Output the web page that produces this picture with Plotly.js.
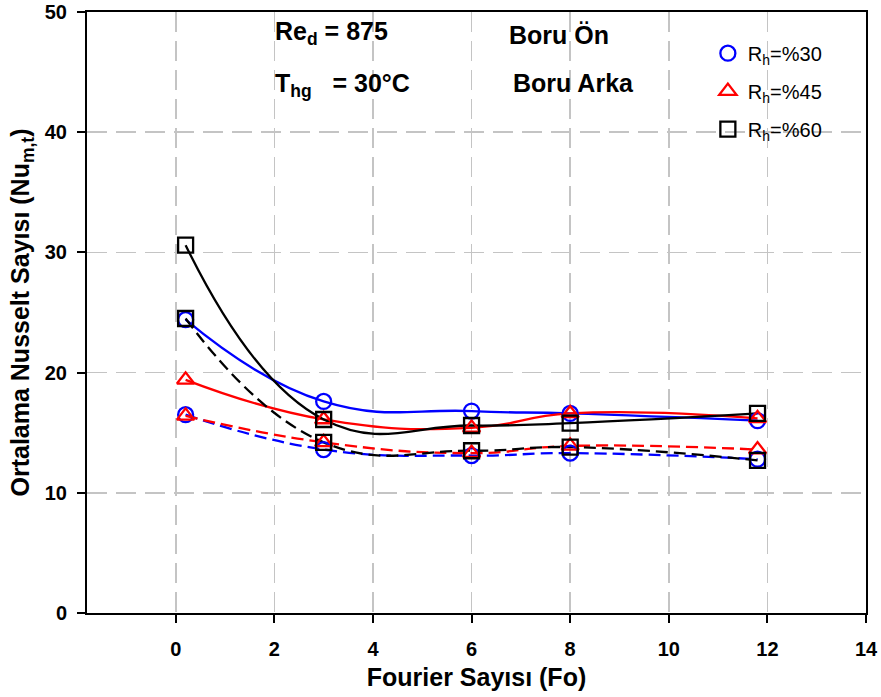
<!DOCTYPE html>
<html>
<head>
<meta charset="utf-8">
<script src="https://cdn.plot.ly/plotly-3.0.1.min.js"></script>
<style>html,body{margin:0;padding:0;background:#fff;}#chart{width:881px;height:697px;}</style>
</head>
<body>
<div id="chart"></div>
<script>
// Fourier number (x) values
const fo = [0.2, 3, 6, 8, 11.8];
// Boru Ön (front, solid lines)
const on30 = [24.4, 17.6, 16.8, 16.6, 16.0];
const on45 = [19.4, 16.1, 15.4, 16.6, 16.2];
const on60 = [30.6, 16.1, 15.6, 15.8, 16.6];
// Boru Arka (back, dashed lines)
const arka30 = [16.5, 13.6, 13.1, 13.3, 12.8];
const arka45 = [16.4, 14.2, 13.3, 13.9, 13.6];
const arka60 = [24.5, 14.2, 13.5, 13.8, 12.7];
const seriesNames = ['R<sub>h</sub>=%30', 'R<sub>h</sub>=%45', 'R<sub>h</sub>=%60'];
// axis ticks
const xTickVals = [0, 2, 4, 6, 8, 10, 12, 14];
const xTickText = ['0', '2', '4', '6', '8', '10', '12', '14'];
const yTickVals = [0, 10, 20, 30, 40, 50];
const yTickText = ['0', '10', '20', '30', '40', '50'];

const colors = ['#0000ff', '#ff0000', '#000000'];
const symbols = ['circle-open', 'triangle-up-open', 'square-open'];

const FONT = 'Liberation Sans, Arial, sans-serif';
const onSets = [on30, on45, on60];
const arkaSets = [arka30, arka45, arka60];
const traces = [];
for (let i = 0; i < 3; i++) {
  traces.push({x: fo, y: onSets[i], mode: 'lines', line: {color: colors[i], width: 2.3, shape: 'spline', smoothing: 1.3}, showlegend: false, hoverinfo: 'skip'});
  traces.push({x: fo, y: arkaSets[i], mode: 'lines', line: {color: colors[i], width: 2.3, shape: 'spline', smoothing: 1.3, dash: '12px,6px'}, showlegend: false, hoverinfo: 'skip'});
}
for (let i = 0; i < 3; i++) {
  traces.push({x: fo, y: onSets[i], mode: 'markers', name: seriesNames[i], legendgroup: 'g' + i,
    marker: {symbol: symbols[i], size: 15, color: colors[i], line: {color: colors[i], width: 2.3}}});
  traces.push({x: fo, y: arkaSets[i], mode: 'markers', name: seriesNames[i], legendgroup: 'g' + i, showlegend: false,
    marker: {symbol: symbols[i], size: 15, color: colors[i], line: {color: colors[i], width: 2.3}}});
}

const bold = s => '<b>' + s + '</b>';

const layout = {
  width: 881, height: 697,
  margin: {l: 87, r: 15, t: 12, b: 84},
  paper_bgcolor: '#fff', plot_bgcolor: '#fff',
  font: {family: FONT, color: '#000'},
  showlegend: true,
  legend: {x: 0.797, y: 0.964, xanchor: 'left', yanchor: 'top', bgcolor: 'rgba(0,0,0,0)',
    font: {family: FONT, size: 20, color: '#000'}, tracegroupgap: 9},
  xaxis: {
    range: [-1.8, 14], tickmode: 'array', tickvals: xTickVals, ticktext: xTickText.map(bold),
    showline: true, linecolor: '#000', linewidth: 2, mirror: true,
    ticks: 'outside', ticklen: 8, tickwidth: 2, tickcolor: '#000',
    showgrid: true, gridcolor: '#c4c4c4', gridwidth: 1.5, griddash: '20px,9px',
    zeroline: false, ticklabelstandoff: 9,
    tickfont: {family: FONT, size: 20, color: '#000'},
    title: {text: '<b>Fourier Sayısı (Fo)</b>', font: {family: FONT, size: 25, color: '#000'}, standoff: 9}
  },
  yaxis: {
    range: [0, 50], tickmode: 'array', tickvals: yTickVals, ticktext: yTickText.map(bold),
    showline: true, linecolor: '#000', linewidth: 2, mirror: true,
    ticks: 'outside', ticklen: 8, tickwidth: 2, tickcolor: '#000',
    showgrid: true, gridcolor: '#c4c4c4', gridwidth: 1.5, griddash: '20px,9px',
    zeroline: false, ticklabelstandoff: 6,
    tickfont: {family: FONT, size: 20, color: '#000'},
    title: {text: '<b>Ortalama Nusselt Sayısı (Nu<sub>m,t</sub>)</b>', font: {family: FONT, size: 25, color: '#000'}, standoff: 8}
  },
  annotations: [
    {xref: 'paper', yref: 'paper', x: 0.2388, y: 0.965, xanchor: 'left', yanchor: 'middle', showarrow: false,
     text: '<b>Re<sub>d</sub> = 875</b>', font: {family: FONT, size: 25, color: '#000'}},
    {xref: 'paper', yref: 'paper', x: 0.2388, y: 0.878, xanchor: 'left', yanchor: 'middle', showarrow: false,
     text: '<b>T<sub>hg</sub>\u00a0\u00a0 = 30°C</b>', font: {family: FONT, size: 25, color: '#000'}},
    {xref: 'paper', yref: 'paper', x: 0.539, y: 0.962, xanchor: 'left', yanchor: 'middle', showarrow: false,
     text: '<b>Boru Ön</b>', font: {family: FONT, size: 25, color: '#000'}},
    {xref: 'paper', yref: 'paper', x: 0.544, y: 0.882, xanchor: 'left', yanchor: 'middle', showarrow: false,
     text: '<b>Boru Arka</b>', font: {family: FONT, size: 25, color: '#000'}}
  ]
};
Plotly.newPlot('chart', traces, layout, {displayModeBar: false, staticPlot: true});
</script>
</body>
</html>
